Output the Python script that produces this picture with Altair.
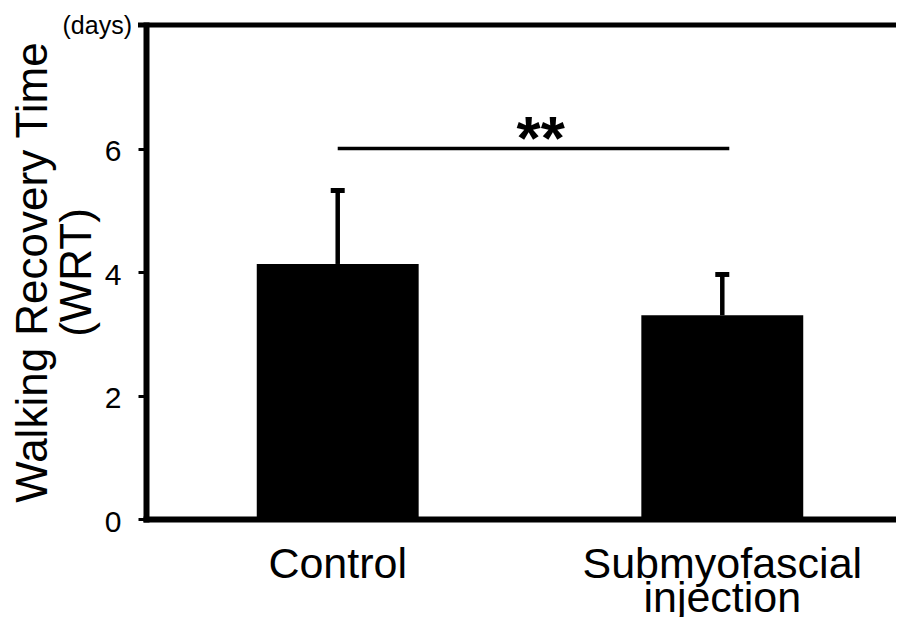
import altair as alt
import pandas as pd

# ---- data ----
groups = ["Control", "Submyofascial injection"]
means = [4.13, 3.30]
sds = [1.19, 0.66]
y_ticks = [0, 2, 4, 6]
y_max = 8
sig_level = 6.0
sig_label = "**"
unit_label = "(days)"
y_title = ["Walking Recovery Time", "(WRT)"]

FONT = "Liberation Sans"

df = pd.DataFrame({"group": groups, "mean": means, "sd": sds})
df["upper"] = df["mean"] + df["sd"]

x_scale = alt.Scale(domain=groups, range=[0, 768], paddingInner=0.579, paddingOuter=0.288)
y_scale = alt.Scale(domain=[0, y_max], nice=False)

x_axis = alt.Axis(
    title=None,
    ticks=False,
    tickSize=0,
    labelAngle=0,
    labelPadding=24,
    labelFont=FONT,
    labelFontSize=43,
    labelLineHeight=34,
    labelColor="black",
    labelLimit=400,
    labelExpr="split(datum.label, ' ')",
    domainColor="black",
    domainWidth=6,
    domainCap="square",
)

y_axis = alt.Axis(
    values=y_ticks,
    grid=False,
    title=y_title,
    titleFont=FONT,
    titleFontSize=44,
    titleFontWeight="normal",
    titleColor="black",
    titleLineHeight=44,
    titleAngle=270,
    titleAlign="center",
    titleBaseline="top",
    titleX=-135,
    titleY=247,
    labelFont=FONT,
    labelFontSize=30,
    labelColor="black",
    labelPadding=17,
    labelOffset=3,
    tickColor="black",
    tickWidth=3,
    tickSize=8,
    domainColor="black",
    domainWidth=6,
    domainCap="square",
)

base = alt.Chart(df)

bars = base.mark_bar(color="black").encode(
    x=alt.X("group:N", scale=x_scale, sort=groups, axis=x_axis),
    y=alt.Y("mean:Q", scale=y_scale, axis=y_axis),
)

err = base.mark_rule(color="black", strokeWidth=4.5).encode(
    x=alt.X("group:N", scale=x_scale, axis=x_axis),
    y=alt.Y("mean:Q", scale=y_scale, axis=y_axis),
    y2="upper:Q",
)

caps = base.mark_tick(color="black", thickness=5, size=14, opacity=1).encode(
    x=alt.X("group:N", scale=x_scale, axis=x_axis),
    y=alt.Y("upper:Q", scale=y_scale, axis=y_axis),
)

top_df = pd.DataFrame({"y": [y_max]})
top_line = alt.Chart(top_df).mark_rule(color="black", strokeWidth=5).encode(
    y=alt.Y("y:Q", scale=y_scale, axis=y_axis),
    x=alt.value(-8),
    x2=alt.value(768),
)

days = alt.Chart(pd.DataFrame({"y": [y_max], "t": [unit_label]})).mark_text(
    font=FONT, fontSize=25, color="black", align="right", baseline="middle", dy=1
).encode(
    y=alt.Y("y:Q", scale=y_scale, axis=y_axis),
    x=alt.value(-14),
    text="t:N",
)

sig_df = pd.DataFrame({"a": [groups[0]], "b": [groups[1]], "y": [sig_level], "t": [sig_label]})
sig_line = alt.Chart(sig_df).mark_rule(color="black", strokeWidth=3.5, x2Offset=7).encode(
    x=alt.X("a:N", scale=x_scale, axis=x_axis, bandPosition=0.5),
    x2="b:N",
    y=alt.Y("y:Q", scale=y_scale, axis=y_axis),
)
sig_text = alt.Chart(sig_df).mark_text(
    font=FONT, fontSize=62, fontWeight="bold", color="black",
    align="center", baseline="alphabetic", dx=203, dy=10,
).encode(
    x=alt.X("a:N", scale=x_scale, axis=x_axis),
    y=alt.Y("y:Q", scale=y_scale, axis=y_axis),
    text="t:N",
)

chart = (
    alt.layer(bars, err, caps, top_line, days, sig_line, sig_text)
    .properties(
        width=750,
        height=494,
        autosize=alt.AutoSizeParams(type="none"),
        padding={"left": 138, "top": 17, "right": 0, "bottom": 98},
    )
    .configure_view(strokeWidth=0)
)

chart.save("out.html", embed_options={"renderer": "svg", "actions": False})
